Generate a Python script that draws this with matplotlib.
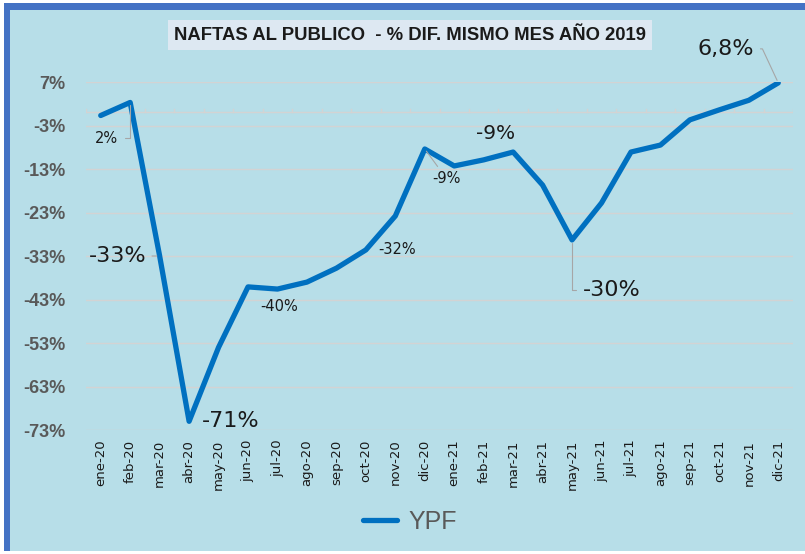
import matplotlib
matplotlib.use("Agg")
import matplotlib.pyplot as plt
from matplotlib.patches import Rectangle
from matplotlib.lines import Line2D
import numpy as np

plt.rcParams["font.family"] = ["DejaVu Sans"]
NARROW = ["Liberation Sans", "DejaVu Sans"]

# ---- data -----------------------------------------------------------------
months = ["ene-20", "feb-20", "mar-20", "abr-20", "may-20", "jun-20",
          "jul-20", "ago-20", "sep-20", "oct-20", "nov-20", "dic-20",
          "ene-21", "feb-21", "mar-21", "abr-21", "may-21", "jun-21",
          "jul-21", "ago-21", "sep-21", "oct-21", "nov-21", "dic-21"]
ypf = [-0.7, 2.3, -33.0, -71.0, -54.0, -40.1, -40.6, -39.0, -35.8, -31.6,
       -23.8, -8.4, -12.3, -10.9, -9.1, -16.7, -29.3, -20.8, -9.1, -7.5,
       -1.7, 0.6, 2.8, 6.8]
yticks = [7, -3, -13, -23, -33, -43, -53, -63, -73]

# labelled points: (month, text, size, dx px, dy px, leader style)
labels = [
    ("feb-20", "2%", 10.5, -24, -36, "elbow"),
    ("mar-20", "-33%", 16, -42, 0, "straight"),
    ("abr-20", "-71%", 16, 42, 0, None),
    ("jul-20", "-40%", 10.5, 2, -17, None),
    ("oct-20", "-32%", 10.5, 31, 0, None),
    ("dic-20", "-9%", 10.5, 22, -30, "straight"),
    ("mar-21", "-9%", 14.5, -18, 19, None),
    ("may-21", "-30%", 16, 40, -50, "elbow"),
    ("dic-21", "6,8%", 16, -53, 34, "slant"),
]

BG = "#B7DEE8"
FRAME = "#4472C4"
LINE = "#0070C0"
GRID = "#D3D3D3"
TXT = "#1A1A1A"
GREY = "#595959"
LEAD = "#A6A6A6"

W, H = 805, 554
fig = plt.figure(figsize=(W / 100, H / 100), dpi=100, facecolor="white")


def fx(px):
    return px / W


def fy(py):
    return 1 - py / H


# frame + background
fig.add_artist(Rectangle((fx(4), fy(551)), fx(801), 548 / H - 3 / H,
                         transform=fig.transFigure, fc=BG, ec="none", zorder=-3))
fig.add_artist(Rectangle((fx(4), fy(10)), fx(801), 7 / H,
                         transform=fig.transFigure, fc=FRAME, ec="none", zorder=-2))
fig.add_artist(Rectangle((fx(4), fy(551)), fx(6), 548 / H,
                         transform=fig.transFigure, fc=FRAME, ec="none", zorder=-2))

ax = fig.add_axes([fx(86), fy(430), fx(793) - fx(86), fy(82) - fy(430)])
ax.set_facecolor("none")

x = np.arange(len(months))
ax.set_xlim(-0.5, len(months) - 0.5)
ax.set_ylim(-73, 7)

for v in yticks:
    ax.axhline(v, color=GRID, lw=1.0, zorder=1)
# category axis at 0 with upward tick marks at boundaries
ax.axhline(0, color=GRID, lw=1.0, zorder=1)
for b in np.arange(-0.5, len(months), 1.0):
    ax.plot([b, b], [0, 0.8], color=GRID, lw=1.0, zorder=1)

ax.plot(x, ypf, color=LINE, lw=3.8, solid_capstyle="round",
        solid_joinstyle="round", zorder=3)

for s in ax.spines.values():
    s.set_visible(False)

ax.set_yticks(yticks)
ax.set_yticklabels([f"{v}%" for v in yticks], fontsize=13, fontweight="bold",
                   color=GREY, family=NARROW)
ax.tick_params(axis="y", length=0, pad=15)
ax.set_xticks(x)
ax.set_xticklabels(months, rotation=90, fontsize=9.5, color=TXT)
ax.tick_params(axis="x", length=0, pad=7)

idx = {m: i for i, m in enumerate(months)}
for m, txt, size, dx, dy, lead in labels:
    i = idx[m]
    arrow = None
    if lead == "straight":
        arrow = dict(arrowstyle="-", color=LEAD, lw=0.8, shrinkA=2, shrinkB=2)
    elif lead == "elbow":
        arrow = dict(arrowstyle="-", color=LEAD, lw=0.8, shrinkA=3, shrinkB=2,
                     connectionstyle="angle,angleA=0,angleB=90,rad=0")
    elif lead == "slant":
        arrow = dict(arrowstyle="-", color=LEAD, lw=0.8, shrinkA=3, shrinkB=2,
                     connectionstyle="angle,angleA=0,angleB=115,rad=0")
    ax.annotate(txt, xy=(i, ypf[i]), xytext=(dx, dy), textcoords="offset pixels",
                ha="center", va="center", fontsize=size, color=TXT,
                arrowprops=arrow, zorder=4)

# title
fig.text(fx(410), fy(35), "NAFTAS AL PUBLICO  - % DIF. MISMO MES AÑO 2019",
         ha="center", va="center", fontsize=13.3, fontweight="bold", color="#1A1A1A",
         family=NARROW,
         bbox=dict(boxstyle="square,pad=0.35", fc="#DDE8F2", ec="none"))

# legend
handle = Line2D([], [], color=LINE, lw=3.8, solid_capstyle="round")
leg = fig.legend([handle], ["YPF"], loc="center", bbox_to_anchor=(fx(410), fy(522)),
                 frameon=False, handlelength=1.35, handletextpad=0.45,
                 prop={"family": NARROW, "size": 18})
for t in leg.get_texts():
    t.set_color(GREY)

fig.savefig("out.png", dpi=100, facecolor="white")
